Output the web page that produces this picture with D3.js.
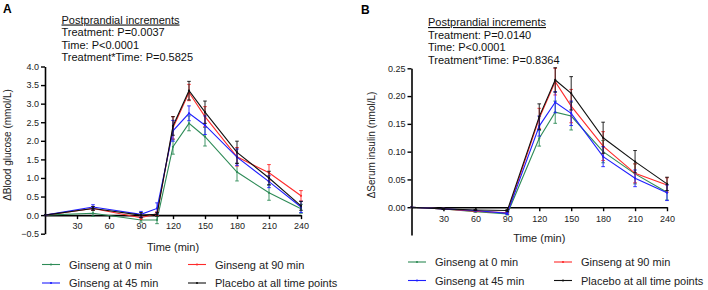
<!DOCTYPE html>
<html>
<head>
<meta charset="utf-8">
<script src="https://cdn.jsdelivr.net/npm/d3@7/dist/d3.min.js"></script>
<style>
body{margin:0;background:#fff;}
svg{display:block;font-family:"Liberation Sans",Arial,sans-serif;}
</style>
</head>
<body>
<svg id="c" width="708" height="290"></svg>
<script>
// ---- Data ----
const seriesNames = ["Ginseng at 0 min", "Ginseng at 90 min", "Ginseng at 45 min", "Placebo at all time points"];
const seriesColors = ["#2e8b57", "#ff2a2a", "#1f1fff", "#111111"];

// Panel A: blood glucose
const timesA = [0, 45, 90, 105, 120, 135, 150, 180, 210, 240];
const glucoseG0  = [0, 0.05, -0.13, -0.13, 1.84, 2.47, 2.11, 1.16, 0.60, 0.17];
const glucoseG90 = [0, 0.18, -0.07, 0.04, 2.35, 3.30, 2.65, 1.57, 1.14, 0.52];
const glucoseG45 = [0, 0.22, 0.02, 0.18, 2.27, 2.74, 2.42, 1.56, 0.90, 0.22];
const glucosePl  = [0, 0.18, 0.00, 0.02, 2.40, 3.35, 2.77, 1.69, 1.00, 0.25];
const glucoseErrG0  = [0, 0.08, 0.06, 0.10, 0.20, 0.20, 0.25, 0.24, 0.20, 0.12];
const glucoseErrG90 = [0, 0.05, 0.05, 0.05, 0.30, 0.22, 0.27, 0.25, 0.22, 0.14];
const glucoseErrG45 = [0, 0.06, 0.08, 0.15, 0.28, 0.20, 0.25, 0.22, 0.16, 0.15];
const glucoseErrPl  = [0, 0.05, 0.07, 0.05, 0.25, 0.25, 0.30, 0.30, 0.18, 0.12];
const yTicksA = [-0.5, 0, 0.5, 1, 1.5, 2, 2.5, 3, 3.5, 4];

// Panel B: serum insulin
const timesB = [0, 30, 60, 90, 120, 135, 150, 180, 210, 240];
const insulinG0  = [0, -0.003, -0.008, -0.012, 0.124, 0.171, 0.164, 0.100, 0.060, 0.027];
const insulinG90 = [0, -0.003, -0.007, -0.010, 0.160, 0.226, 0.182, 0.110, 0.061, 0.040];
const insulinG45 = [0, -0.003, -0.006, -0.011, 0.146, 0.189, 0.169, 0.091, 0.052, 0.026];
const insulinPl  = [0, -0.003, -0.005, -0.006, 0.163, 0.229, 0.205, 0.125, 0.082, 0.042];
const insulinErrG0  = [0, 0.001, 0.001, 0.002, 0.014, 0.020, 0.025, 0.020, 0.018, 0.014];
const insulinErrG90 = [0, 0.001, 0.001, 0.002, 0.018, 0.024, 0.030, 0.026, 0.017, 0.013];
const insulinErrG45 = [0, 0.001, 0.001, 0.002, 0.018, 0.019, 0.022, 0.018, 0.015, 0.014];
const insulinErrPl  = [0, 0.001, 0.001, 0.002, 0.023, 0.022, 0.030, 0.028, 0.020, 0.012];
const yTicksB = [0, 0.05, 0.10, 0.15, 0.20, 0.25];

const xTicks = [30, 60, 90, 120, 150, 180, 210, 240];

const panels = [
  {
    letter: "A", letterX: 3, letterY: 13,
    notes: ["Postprandial increments", "Treatment: P=0.0037", "Time: P<0.0001", "Treatment*Time: P=0.5825"],
    noteX: 61.5, noteY: 23.5,
    times: timesA,
    values: [glucoseG0, glucoseG90, glucoseG45, glucosePl],
    errs: [glucoseErrG0, glucoseErrG90, glucoseErrG45, glucoseErrPl],
    yDomain: [-0.5, 4.0], yRange: [233.7, 66.5], yTicks: yTicksA, yFmt: d3.format(".1f"),
    xRange: [45, 301],
    ylabel: "\u0394Blood glucose (mmol/L)", ylabelX: 11, ylabelY: 145,
    xlabelY: 251,
    legX: [42, 188], legY: [264.5, 283], legTextDx: 27
  },
  {
    letter: "B", letterX: 361, letterY: 14,
    notes: ["Postprandial increments", "Treatment: P=0.0140", "Time: P<0.0001", "Treatment*Time: P=0.8364"],
    noteX: 428, noteY: 26,
    times: timesB,
    values: [insulinG0, insulinG90, insulinG45, insulinPl],
    errs: [insulinErrG0, insulinErrG90, insulinErrG45, insulinErrPl],
    yDomain: [-0.05, 0.25], yRange: [235, 68.3], yTicks: yTicksB, yFmt: d3.format(".2f"),
    xRange: [411.5, 667],
    ylabel: "\u0394Serum insulin (nmol/L)", ylabelX: 375, ylabelY: 145,
    xlabelY: 242,
    legX: [408, 554], legY: [262, 280.5], legTextDx: 27
  }
];

const svg = d3.select("#c");

panels.forEach(p => {
  const g = svg.append("g");
  const x = d3.scaleLinear().domain([0, 240]).range(p.xRange);
  const y = d3.scaleLinear().domain(p.yDomain).range(p.yRange);

  // panel letter
  g.append("text").attr("x", p.letterX).attr("y", p.letterY)
    .attr("font-size", 12).attr("font-weight", "bold").text(p.letter);

  // notes
  p.notes.forEach((t, i) => {
    const tx = g.append("text").attr("x", p.noteX).attr("y", p.noteY + i * 12.6)
      .attr("font-size", 11).attr("fill", "#111").text(t);
    if (i === 0) tx.attr("text-decoration", "underline");
  });

  // y axis
  const yAxis = d3.axisLeft(y).tickValues(p.yTicks).tickFormat(p.yFmt).tickSize(4).tickSizeOuter(0).tickPadding(2);
  const ya = g.append("g").attr("transform", `translate(${p.xRange[0]},0)`).call(yAxis);
  ya.select(".domain").attr("stroke-width", 1.6);
  ya.selectAll(".tick line").attr("stroke-width", 1.4);
  ya.selectAll("text").attr("font-size", 9).attr("fill", "#222").attr("font-family", "Liberation Sans, Arial, sans-serif");

  // x axis at y=0
  const xAxis = d3.axisBottom(x).tickValues(xTicks).tickSize(4).tickSizeOuter(0).tickPadding(4);
  const xa = g.append("g").attr("transform", `translate(0,${y(0)})`).call(xAxis);
  xa.select(".domain").attr("stroke-width", 1.6);
  xa.selectAll(".tick line").attr("stroke-width", 1.4);
  xa.selectAll("text").attr("font-size", 9).attr("fill", "#222").attr("font-family", "Liberation Sans, Arial, sans-serif");

  // axis labels
  g.append("text").attr("transform", `translate(${p.ylabelX},${p.ylabelY}) rotate(-90)`)
    .attr("text-anchor", "middle").attr("font-size", 10).attr("fill", "#222").text(p.ylabel);
  g.append("text").attr("x", (p.xRange[0] + p.xRange[1]) / 2).attr("y", p.xlabelY)
    .attr("text-anchor", "middle").attr("font-size", 11).attr("fill", "#222").text("Time (min)");

  // series
  const line = d3.line().x(d => x(d.t)).y(d => y(d.v));
  p.values.forEach((vals, si) => {
    const data = p.times.map((t, i) => ({ t, v: vals[i], e: p.errs[si][i] }));
    const col = seriesColors[si];
    const sg = g.append("g");
    sg.append("path").datum(data).attr("d", line).attr("fill", "none")
      .attr("stroke", col).attr("stroke-width", 1.1);
    const eb = sg.selectAll(".eb").data(data.filter(d => d.e > 0)).enter().append("g");
    eb.append("line").attr("x1", d => x(d.t)).attr("x2", d => x(d.t))
      .attr("y1", d => y(d.v - d.e)).attr("y2", d => y(d.v + d.e))
      .attr("stroke", col).attr("stroke-width", 0.9);
    [-1, 1].forEach(s => {
      eb.append("line").attr("x1", d => x(d.t) - 1.8).attr("x2", d => x(d.t) + 1.8)
        .attr("y1", d => y(d.v + s * d.e)).attr("y2", d => y(d.v + s * d.e))
        .attr("stroke", col).attr("stroke-width", 0.9);
    });
    sg.selectAll(".pt").data(data).enter().append("circle")
      .attr("cx", d => x(d.t)).attr("cy", d => y(d.v)).attr("r", 1.1).attr("fill", col);
  });

  // legend
  const legOrder = [[0, 0], [1, 1], [2, 0], [3, 1]]; // [series, column]
  legOrder.forEach(([si, col], k) => {
    const row = k < 2 ? 0 : 1;
    const lx = p.legX[col], ly = p.legY[row];
    g.append("line").attr("x1", lx).attr("x2", lx + 18).attr("y1", ly).attr("y2", ly)
      .attr("stroke", seriesColors[si]).attr("stroke-width", 1.1);
    g.append("circle").attr("cx", lx + 9).attr("cy", ly).attr("r", 1.1).attr("fill", seriesColors[si]);
    g.append("text").attr("x", lx + p.legTextDx).attr("y", ly + 4)
      .attr("font-size", 11).attr("fill", "#222").text(seriesNames[si]);
  });
});
</script>
</body>
</html>
